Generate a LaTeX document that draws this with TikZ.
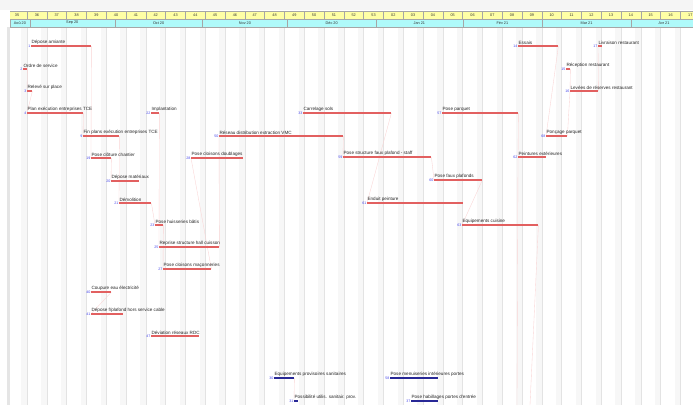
\documentclass[tikz,border=0pt]{standalone}
\usepackage{fontspec}
\setmainfont{Liberation Sans}
\usepackage{xcolor}
\usepackage{tikz}
\usetikzlibrary{backgrounds}

\definecolor{barred}{RGB}{226,96,96}
\definecolor{barblue}{RGB}{40,40,150}
\definecolor{numblue}{RGB}{70,70,235}
\definecolor{weekyellow}{RGB}{255,255,165}
\definecolor{monthcyan}{RGB}{175,250,250}
\definecolor{linkpink}{RGB}{250,212,212}

\begin{document}
\begin{tikzpicture}[x=1pt, y=-1pt,
    bar/.style={rectangle, fill=barred, inner sep=0, minimum height=1.8pt, anchor=west},
    bluebar/.style={bar, fill=barblue, minimum height=1.2pt},
    tasktext/.style={font=\fontsize{4.6}{5}\selectfont, text=black!85, inner sep=0.4pt, anchor=south west},
    tasknum/.style={font=\fontsize{3.6}{4}\selectfont, text=numblue, inner sep=0.5pt, anchor=east},
    hdr/.style={font=\fontsize{3.8}{4}\selectfont, text=black!80, inner sep=0},
    link/.style={draw=linkpink, line width=0.35pt}]

    \useasboundingbox (0,0) rectangle (693,405);

    % header : weeks and months
    \begin{scope}
        \clip (10,0) rectangle (693,405);
        \foreach \w [count=\k from 0] in {35,36,37,38,39,40,41,42,43,44,45,46,47,48,49,50,51,52,53,02,03,04,05,06,07,08,09,10,11,12,13,14,15,16,17} {
            \pgfmathsetmacro\xa{7.2+19.8*\k}
            \draw[fill=weekyellow, draw=gray!70, line width=0.3pt] (\xa,11) rectangle ++(19.8,8);
            \node[hdr] (w\k) at (\xa+9.9,15) {\w};
        }
        \foreach \ma/\mb/\mname [count=\m] in {10/29.8/Aoû 20, 29.8/114.7/Sep 20, 114.7/202.5/Oct 20, 202.5/287.4/Nov 20, 287.4/376/Déc 20, 376/462.8/Jan 21, 462.8/542/Fév 21, 542/631/Mar 21, 631/697/Avr 21} {
            \draw[fill=monthcyan, draw=gray!70, line width=0.3pt] (\ma,19) rectangle (\mb,27);
            \node[hdr] (m\m) at ({(\ma+\mb)/2},23) {\mname};
        }
    \end{scope}

    % tasks
    \node[bar, minimum width=60pt] (t1) at (31,46) {};
    \node[tasknum] (n1) at ([yshift=-0.6pt]t1.west) {1};
    \node[tasktext] (l1) at (t1.north west) {Dépose amiante};

    \node[bar, minimum width=4pt] (t2) at (23,69) {};
    \node[tasknum] (n2) at ([yshift=-0.6pt]t2.west) {2};
    \node[tasktext] (l2) at (t2.north west) {Ordre de service};

    \node[bar, minimum width=5pt] (t3) at (27,91) {};
    \node[tasknum] (n3) at ([yshift=-0.6pt]t3.west) {3};
    \node[tasktext] (l3) at (t3.north west) {Relevé sur place};

    \node[bar, minimum width=56pt] (t4) at (27,113) {};
    \node[tasknum] (n4) at ([yshift=-0.6pt]t4.west) {4};
    \node[tasktext] (l4) at (t4.north west) {Plan exécution entreprises TCE};

    \node[bar, minimum width=8pt] (t22) at (151,113) {};
    \node[tasknum] (n22) at ([yshift=-0.6pt]t22.west) {22};
    \node[tasktext] (l22) at (t22.north west) {Implantation};

    \node[bar, minimum width=88pt] (t33) at (303,113) {};
    \node[tasknum] (n33) at ([yshift=-0.6pt]t33.west) {33};
    \node[tasktext] (l33) at (t33.north west) {Carrelage sols};

    \node[bar, minimum width=76pt] (t57) at (442,113) {};
    \node[tasknum] (n57) at ([yshift=-0.6pt]t57.west) {57};
    \node[tasktext] (l57) at (t57.north west) {Pose parquet};

    \node[bar, minimum width=36pt] (t9) at (83,136) {};
    \node[tasknum] (n9) at ([yshift=-0.6pt]t9.west) {9};
    \node[tasktext] (l9) at (t9.north west) {Fin plans exécution entreprises TCE};

    \node[bar, minimum width=124pt] (t50) at (219,136) {};
    \node[tasknum] (n50) at ([yshift=-0.6pt]t50.west) {50};
    \node[tasktext] (l50) at (t50.north west) {Réseau distribution extraction VMC};

    \node[bar, minimum width=21pt] (t68) at (546,136) {};
    \node[tasknum] (n68) at ([yshift=-0.6pt]t68.west) {68};
    \node[tasktext] (l68) at (t68.north west) {Ponçage parquet};

    \node[bar, minimum width=20pt] (t19) at (91,158) {};
    \node[tasknum] (n19) at ([yshift=-0.6pt]t19.west) {19};
    \node[tasktext] (l19) at (t19.north west) {Pose clôture chantier};

    \node[bar, minimum width=52pt] (t28) at (191,158) {};
    \node[tasknum] (n28) at ([yshift=-0.6pt]t28.west) {28};
    \node[tasktext] (l28) at (t28.north west) {Pose cloisons doublages};

    \node[bar, minimum width=88pt] (t59) at (343,157) {};
    \node[tasknum] (n59) at ([yshift=-0.6pt]t59.west) {59};
    \node[tasktext] (l59) at (t59.north west) {Pose structure faux plafond - staff};

    \node[bar, minimum width=28pt] (t62) at (518,157) {};
    \node[tasknum] (n62) at ([yshift=-0.6pt]t62.west) {62};
    \node[tasktext] (l62) at (t62.north west) {Peintures extérieures};

    \node[bar, minimum width=28pt] (t20) at (111,181) {};
    \node[tasknum] (n20) at ([yshift=-0.6pt]t20.west) {20};
    \node[tasktext] (l20) at (t20.north west) {Dépose matériaux};

    \node[bar, minimum width=48pt] (t60) at (434,180) {};
    \node[tasknum] (n60) at ([yshift=-0.6pt]t60.west) {60};
    \node[tasktext] (l60) at (t60.north west) {Pose faux plafonds};

    \node[bar, minimum width=32pt] (t21) at (119,203) {};
    \node[tasknum] (n21) at ([yshift=-0.6pt]t21.west) {21};
    \node[tasktext] (l21) at (t21.north west) {Démolition};

    \node[bar, minimum width=96pt] (t61) at (367,203) {};
    \node[tasknum] (n61) at ([yshift=-0.6pt]t61.west) {61};
    \node[tasktext] (l61) at (t61.north west) {Enduit peinture};

    \node[bar, minimum width=8pt] (t23) at (155,225) {};
    \node[tasknum] (n23) at ([yshift=-0.6pt]t23.west) {23};
    \node[tasktext] (l23) at (t23.north west) {Pose huisseries bâtis};

    \node[bar, minimum width=76pt] (t63) at (462,225) {};
    \node[tasknum] (n63) at ([yshift=-0.6pt]t63.west) {63};
    \node[tasktext] (l63) at (t63.north west) {Equipements cuisine};

    \node[bar, minimum width=60pt] (t25) at (159,247) {};
    \node[tasknum] (n25) at ([yshift=-0.6pt]t25.west) {25};
    \node[tasktext] (l25) at (t25.north west) {Reprise structure hall cuisson};

    \node[bar, minimum width=48pt] (t27) at (163,269) {};
    \node[tasknum] (n27) at ([yshift=-0.6pt]t27.west) {27};
    \node[tasktext] (l27) at (t27.north west) {Pose cloisons maçonneries};

    \node[bar, minimum width=20pt] (t40) at (91,292) {};
    \node[tasknum] (n40) at ([yshift=-0.6pt]t40.west) {40};
    \node[tasktext] (l40) at (t40.north west) {Coupure eau électricité};

    \node[bar, minimum width=32pt] (t41) at (91,314) {};
    \node[tasknum] (n41) at ([yshift=-0.6pt]t41.west) {41};
    \node[tasktext] (l41) at (t41.north west) {Dépose f/plafond hors service cable};

    \node[bar, minimum width=48pt] (t47) at (151,336) {};
    \node[tasknum] (n47) at ([yshift=-0.6pt]t47.west) {47};
    \node[tasktext] (l47) at (t47.north west) {Déviation réseaux RDC};

    \node[bluebar, minimum width=20pt] (t30) at (274,378) {};
    \node[tasknum] (n30) at ([yshift=-0.6pt]t30.west) {30};
    \node[tasktext] (l30) at (t30.north west) {Equipements provisoires sanitaires};

    \node[bluebar, minimum width=4pt] (t31) at (294,401) {};
    \node[tasknum] (n31) at ([yshift=-0.6pt]t31.west) {31};
    \node[tasktext] (l31) at (t31.north west) {Possibilité utilis. sanitair. prov.};

    \node[bluebar, minimum width=48pt] (t58) at (390,378) {};
    \node[tasknum] (n58) at ([yshift=-0.6pt]t58.west) {58};
    \node[tasktext] (l58) at (t58.north west) {Pose menuiseries intérieures portes};

    \node[bluebar, minimum width=27pt] (t37) at (411,401) {};
    \node[tasknum] (n37) at ([yshift=-0.6pt]t37.west) {37};
    \node[tasktext] (l37) at (t37.north west) {Pose habillages portes d'entrée};

    \node[bar, minimum width=40pt] (t14) at (518,46) {};
    \node[tasknum] (n14) at ([yshift=-0.6pt]t14.west) {14};
    \node[tasktext] (l14) at (t14.north west) {Essais};

    \node[bar, minimum width=4pt] (t17) at (598,46) {};
    \node[tasknum] (n17) at ([yshift=-0.6pt]t17.west) {17};
    \node[tasktext] (l17) at (t17.north west) {Livraison restaurant};

    \node[bar, minimum width=4pt] (t15) at (566,69) {};
    \node[tasknum] (n15) at ([yshift=-0.6pt]t15.west) {15};
    \node[tasktext] (l15) at (t15.north west) {Réception restaurant};

    \node[bar, minimum width=28pt] (t16) at (570,91) {};
    \node[tasknum] (n16) at ([yshift=-0.6pt]t16.west) {16};
    \node[tasktext] (l16) at (t16.north west) {Levées de réserves restaurant};

    \coordinate (out62) at (517,405);
    \coordinate (out63) at (530,405);

    \begin{scope}[on background layer]
        \fill[white] (0,0) rectangle (693,405);
        \fill[gray!8] (0,0) rectangle (693,10);
        \fill[gray!20] (7,27) rectangle (10,405);
        % grid, week-ends
        \begin{scope}
            \clip (10,27) rectangle (693,405);
            \foreach \k in {0,...,35} {
                \pgfmathsetmacro\xa{7.2+19.8*\k}
                \fill[gray!6] (\xa+14.1,27) rectangle (\xa+19.8,405);
                \draw[gray!22, line width=0.3pt] (\xa+19.8,27) -- (\xa+19.8,405);
            }
        \end{scope}
        % links
        \draw[link] (t2.east) -- (t3.west);
        \draw[link] (t3.east) -- (t4.west);
        \draw[link] (t4.east) -- (t9.west);
        \draw[link] (t1.east) -- (t19.west);
        \draw[link] (t9.east) -- (t21.west);
        \draw[link] (t19.east) -- (t20.west);
        \draw[link] (t21.east) -- (t23.west);
        \draw[link] (t22.east) -- (t25.west);
        \draw[link] (t23.east) -- (t27.west);
        \draw[link] (t25.east) -- (t50.west);
        \draw[link] (t27.east) -- (t28.west);
        \draw[link] (t40.east) -- (t41.west);
        \draw[link] (t50.east) -- (t59.west);
        \draw[link] (t33.east) -- (t61.west);
        \draw[link] (t59.east) -- (t60.west);
        \draw[link] (t60.east) -- (t63.west);
        \draw[link] (t57.east) -- (t62.west);
        \draw[link] (t14.east) -- (t68.west);
        \draw[link] (t68.east) -- (t16.west);
        \draw[link] (t15.east) -- (t16.west);
        \draw[link] (t16.east) -- (t17.west);
        \draw[link] (t30.east) -- (t31.west);
        \draw[link] (t62.west) -- (out62);
        \draw[link] (t63.east) -- (out63);
    \end{scope}

\end{tikzpicture}
\end{document}
